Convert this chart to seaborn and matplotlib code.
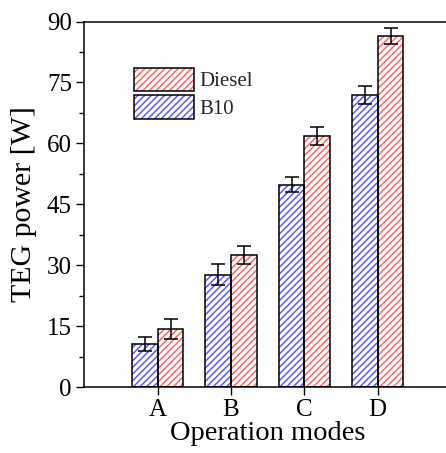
import matplotlib
matplotlib.use("Agg")
import matplotlib.pyplot as plt
import matplotlib.patches as mpatches
from matplotlib.ticker import MultipleLocator
import numpy as np
import pandas as pd
import seaborn as sns

# Operating modes and measured TEG output power (mean and error) per fuel
modes = ["A", "B", "C", "D"]
fuels = ["B10", "Diesel"]
b10_power = [10.5, 27.7, 49.8, 71.9]
b10_err = [1.7, 2.7, 1.8, 2.2]
diesel_power = [14.3, 32.6, 61.8, 86.4]
diesel_err = [2.4, 2.2, 2.2, 2.0]

hatch_colors = {"B10": "#5a5aff", "Diesel": "#ff6666"}

df = pd.DataFrame({
    "mode": modes * 2,
    "fuel": ["B10"] * 4 + ["Diesel"] * 4,
    "power": b10_power + diesel_power,
    "err": b10_err + diesel_err,
})

sns.set_theme(style="ticks")
plt.rcParams["font.family"] = ["Liberation Serif", "DejaVu Serif"]
plt.rcParams["hatch.linewidth"] = 1.1

fig = plt.figure(figsize=(4.46, 4.53), dpi=100)
W, H = 446, 453
x0, x1 = 84.4, 451.0
y_top, y_bot = 21.5, 387.0
ax = fig.add_axes([x0 / W, 1 - y_bot / H, (x1 - x0) / W, (y_bot - y_top) / H])

sns.barplot(data=df, x="mode", y="power", hue="fuel", order=modes,
            hue_order=fuels, width=0.7, errorbar=None, legend=False,
            native_scale=False, ax=ax)

# Restyle bars: coloured hatch on white, with a separate black outline
bars = [p for p in ax.patches if isinstance(p, mpatches.Rectangle)]
for i, bar in enumerate(bars):
    fuel = fuels[i // len(modes)]
    bar.set_facecolor("white")
    bar.set_edgecolor(hatch_colors[fuel])
    bar.set_hatch("/////")
    bar.set_linewidth(0)
    outline = mpatches.Rectangle(bar.get_xy(), bar.get_width(), bar.get_height(),
                                 fill=False, edgecolor="black", linewidth=1.1,
                                 zorder=bar.get_zorder() + 0.1)
    ax.add_patch(outline)

# Error bars at the centre of each bar
for i, bar in enumerate(bars):
    fuel = fuels[i // len(modes)]
    j = i % len(modes)
    val = b10_power[j] if fuel == "B10" else diesel_power[j]
    err = b10_err[j] if fuel == "B10" else diesel_err[j]
    ax.errorbar(bar.get_x() + bar.get_width() / 2, val, yerr=err,
                fmt="none", ecolor="black", elinewidth=1.1, capsize=5,
                capthick=1.1, zorder=5)

ax.set_xlim(-1.0, 4.0)
ax.set_ylim(0, 90)
ax.yaxis.set_major_locator(MultipleLocator(15))
ax.yaxis.set_minor_locator(MultipleLocator(7.5))

for s in ax.spines.values():
    s.set_color("black")
    s.set_linewidth(1.1)

ax.tick_params(axis="both", which="major", direction="out", length=6,
               width=1.0, color="black", labelsize=18, pad=3,
               labelcolor="black")
ax.tick_params(axis="y", which="minor", direction="out", length=3.5,
               width=1.0, color="black")
ax.tick_params(axis="x", which="minor", bottom=False)

ax.set_xlabel("Operation modes", fontsize=20.5, color="black", labelpad=0)
ax.set_ylabel("TEG power [W]", fontsize=21.5, color="black", labelpad=7)

# Legend: hatched swatch overlaid by a black outline
handles = []
for fuel in ["Diesel", "B10"]:
    h1 = mpatches.Patch(facecolor="white", edgecolor=hatch_colors[fuel],
                        hatch="/////", linewidth=0)
    h2 = mpatches.Patch(facecolor="none", edgecolor="black", linewidth=1.1)
    handles.append((h1, h2))
ax.legend(handles, ["Diesel", "B10"], loc="upper left",
          bbox_to_anchor=(0.135, 0.874), frameon=False, fontsize=15,
          handlelength=2.9, handleheight=1.35, labelspacing=0.2,
          handletextpad=0.25, borderpad=0, borderaxespad=0)

fig.savefig("out.png", dpi=100)
